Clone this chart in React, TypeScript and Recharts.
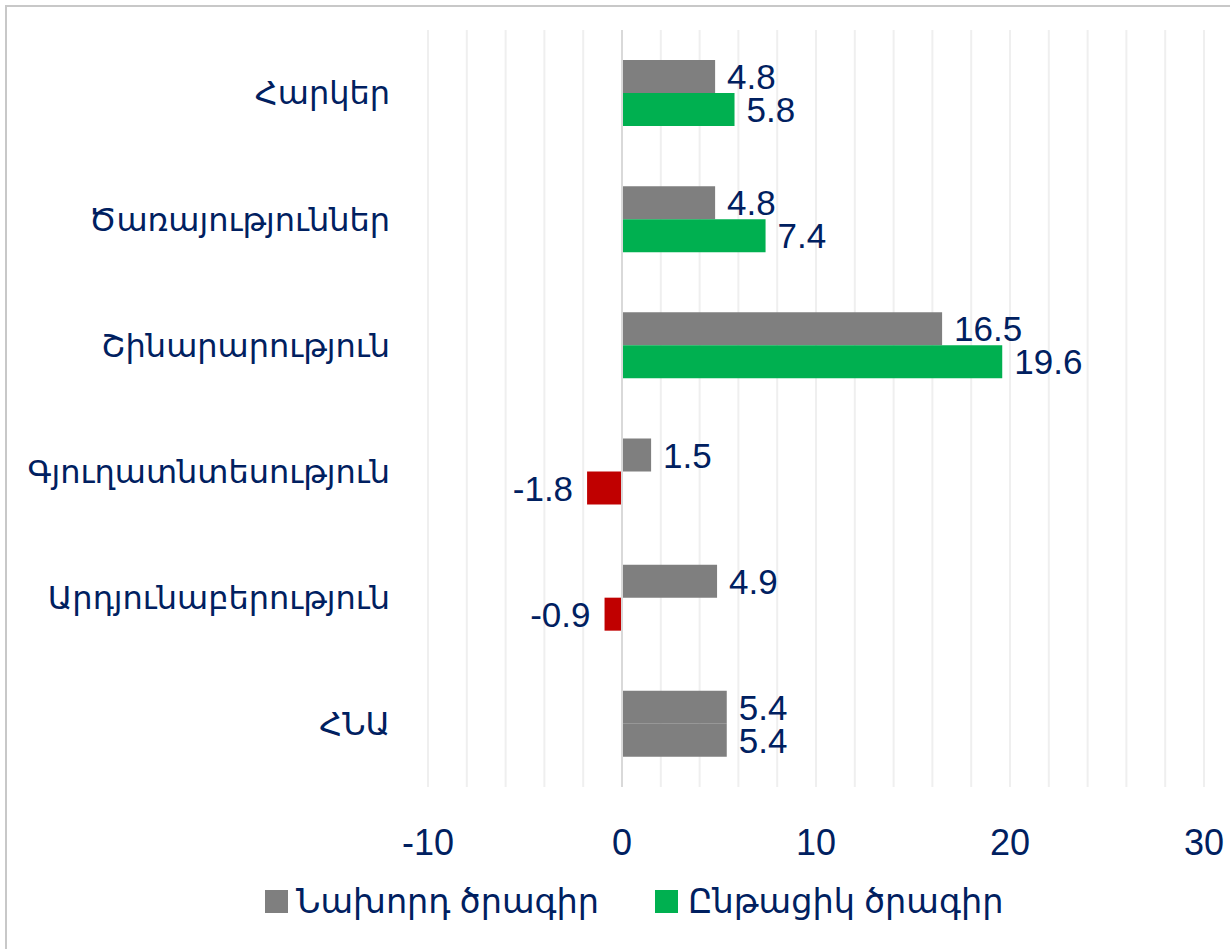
import React from 'react';
import { BarChart, Bar, XAxis, YAxis, CartesianGrid, ReferenceLine, LabelList, Cell } from 'recharts';

const categories = ['Հարկեր', 'Ծառայություններ', 'Շինարարություն', 'Գյուղատնտեսություն', 'Արդյունաբերություն', 'ՀՆԱ'];
const previousProgram = [4.8, 4.8, 16.5, 1.5, 4.9, 5.4];
const currentProgram = [5.8, 7.4, 19.6, -1.8, -0.9, 5.4];
const xTicks = [-10, -8, -6, -4, -2, 0, 2, 4, 6, 8, 10, 12, 14, 16, 18, 20, 22, 24, 26, 28, 30];
const labeledTicks = [-10, 0, 10, 20, 30];
const seriesNames = ['Նախորդ ծրագիր', 'Ընթացիկ ծրագիր'];

const NAVY = '#002060';
const GRAY = '#7f7f7f';
const GREEN = '#00b050';
const RED = '#c00000';
const FONT = '"Liberation Sans", "DejaVu Sans", sans-serif';

const data = categories.map((name, i) => ({
    name,
    previous: previousProgram[i],
    current: currentProgram[i],
}));

const ValueLabel = (props: any) => {
    const { x, y, width, height, value } = props;
    const right = Math.max(x, x + width);
    const left = Math.min(x, x + width);
    const neg = value < 0;
    return (
        <text
            x={neg ? left - 14 : right + 12}
            y={y + height / 2}
            dy="0.36em"
            textAnchor={neg ? 'end' : 'start'}
            fill={NAVY}
            fontSize={35}
            fontFamily={FONT}
        >
            {value}
        </text>
    );
};

export default function App() {
    return (
        <div style={{ position: 'absolute', left: 0, top: 0, width: 1230, height: 949, background: '#fff', overflow: 'hidden' }}>
            <div style={{ position: 'absolute', left: 5, top: 5, right: 0, bottom: 0, borderTop: '2px solid #c8c8c8', borderLeft: '2px solid #c8c8c8' }} />
            <BarChart
                layout="vertical"
                width={1230}
                height={949}
                data={data}
                margin={{ top: 30, right: 26, bottom: 92, left: 0 }}
                barGap={0}
                style={{ position: 'absolute', left: 0, top: 0 }}
            >
                <CartesianGrid horizontal={false} stroke="#efefef" strokeWidth={2} />
                <XAxis
                    type="number"
                    domain={[-10, 30]}
                    ticks={xTicks}
                    interval={0}
                    axisLine={false}
                    tickLine={false}
                    tickSize={0}
                    tickMargin={42}
                    height={70}
                    tickFormatter={(v: number) => (labeledTicks.includes(v) ? String(v) : '')}
                    tick={{ fill: NAVY, fontSize: 36, fontFamily: FONT }}
                />
                <YAxis
                    type="category"
                    dataKey="name"
                    width={428}
                    axisLine={false}
                    tickLine={false}
                    tickSize={0}
                    tickMargin={38}
                    tick={{ fill: NAVY, fontSize: 32, fontFamily: FONT }}
                />
                <ReferenceLine x={0} stroke="#d9d9d9" strokeWidth={2} />
                <Bar dataKey="previous" name={seriesNames[0]} fill={GRAY} barSize={33} isAnimationActive={false}>
                    <LabelList dataKey="previous" content={ValueLabel} />
                </Bar>
                <Bar dataKey="current" name={seriesNames[1]} fill={GREEN} barSize={33} isAnimationActive={false}>
                    {data.map((d, i) => (
                        <Cell key={`c-${i}`} fill={d.name === 'ՀՆԱ' ? GRAY : d.current < 0 ? RED : GREEN} />
                    ))}
                    <LabelList dataKey="current" content={ValueLabel} />
                </Bar>
            </BarChart>
            <div
                style={{
                    position: 'absolute',
                    left: 265,
                    top: 882,
                    display: 'flex',
                    alignItems: 'center',
                    fontFamily: FONT,
                    fontSize: 33.5,
                    color: NAVY,
                    whiteSpace: 'nowrap',
                }}
            >
                <span style={{ width: 23, height: 23, background: GRAY, display: 'inline-block', marginRight: 8 }} />
                <span>{seriesNames[0]}</span>
                <span style={{ width: 23, height: 23, background: GREEN, display: 'inline-block', marginLeft: 56, marginRight: 10 }} />
                <span>{seriesNames[1]}</span>
            </div>
        </div>
    );
}
